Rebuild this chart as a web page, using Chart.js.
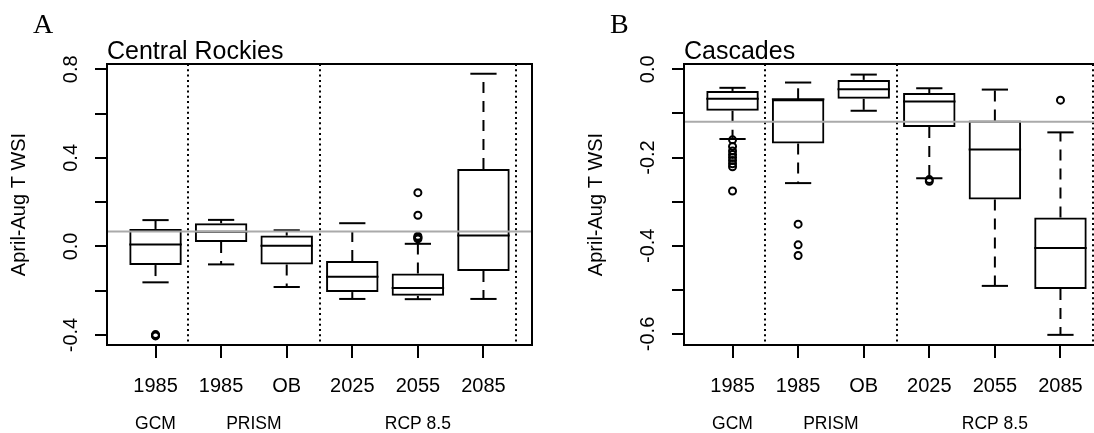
<!DOCTYPE html>
<html>
<head>
<meta charset="utf-8">
<script src="https://cdn.jsdelivr.net/npm/chart.js@4.4.1/dist/chart.umd.min.js"></script>
<style>
  html, body { margin: 0; padding: 0; background: #fff; }
  #wrap { position: relative; width: 1094px; height: 433px; overflow: hidden; }
  canvas { position: absolute; top: 0; }
</style>
</head>
<body>
<div id="wrap">
  <canvas id="panelA" width="577" height="433" style="left:0"></canvas>
  <canvas id="panelB" width="577" height="433" style="left:577px"></canvas>
</div>
<script>
// x categories, shared by both regions
var categories = ['1985', '1985', 'OB', '2025', '2055', '2085'];
var groupLabels = ['GCM', 'PRISM', 'RCP 8.5'];
var groupCenters = [0, 1.5, 4];
var separators = [0.5, 2.5, 5.5];

// Central Rockies: box stats per category
var rockiesLow = [-0.162, -0.081, -0.183, -0.237, -0.238, -0.237];
var rockiesQ1 = [-0.084, 0.020, -0.081, -0.206, -0.223, -0.111];
var rockiesMedian = [0.009, 0.067, 0.003, -0.137, -0.188, 0.049];
var rockiesQ3 = [0.079, 0.105, 0.049, -0.066, -0.122, 0.350];
var rockiesHigh = [0.119, 0.120, 0.073, 0.105, 0.012, 0.780];
var rockiesOutliers = [[-0.398, -0.401, -0.404], [], [], [], [0.243, 0.141, 0.046, 0.042, 0.038, 0.034], []];
var rockiesRef = 0.068;
var rockiesTicks = [-0.4, 0, 0.4, 0.8];

// Cascades: box stats per category
var cascadesLow = [-0.158, -0.258, -0.094, -0.247, -0.491, -0.602];
var cascadesQ1 = [-0.094, -0.168, -0.067, -0.131, -0.295, -0.498];
var cascadesMedian = [-0.067, -0.068, -0.045, -0.073, -0.182, -0.405];
var cascadesQ3 = [-0.049, -0.068, -0.024, -0.054, -0.116, -0.336];
var cascadesHigh = [-0.042, -0.030, -0.012, -0.043, -0.046, -0.143];
var cascadesOutliers = [[-0.160, -0.175, -0.185, -0.193, -0.200, -0.207, -0.214, -0.221, -0.276],
  [-0.351, -0.398, -0.422], [], [-0.250, -0.254], [], [-0.070]];
var cascadesRef = -0.119;
var cascadesTicks = [-0.6, -0.4, -0.2, 0];

var SANS = "'Liberation Sans', Arial, sans-serif";
Chart.defaults.font.family = SANS;
Chart.defaults.color = '#000';

var panels = {
  panelA: { letter: 'A', title: 'Central Rockies', low: rockiesLow, q1: rockiesQ1, med: rockiesMedian,
    q3: rockiesQ3, high: rockiesHigh, out: rockiesOutliers, ref: rockiesRef, ticks: rockiesTicks,
    min: -0.445, max: 0.824, step: 0.2 },
  panelB: { letter: 'B', title: 'Cascades', low: cascadesLow, q1: cascadesQ1, med: cascadesMedian,
    q3: cascadesQ3, high: cascadesHigh, out: cascadesOutliers, ref: cascadesRef, ticks: cascadesTicks,
    min: -0.625, max: 0.012, step: 0.1 }
};

function hline(ctx, x0, x1, y) { ctx.beginPath(); ctx.moveTo(x0, y); ctx.lineTo(x1, y); ctx.stroke(); }
function vline(ctx, x, y0, y1) { ctx.beginPath(); ctx.moveTo(x, y0); ctx.lineTo(x, y1); ctx.stroke(); }

// whiskers, medians, separators and labels around the floating-bar boxes
var boxplotExtras = {
  id: 'boxplotExtras',
  beforeDatasetsDraw: function (chart) {
    var p = panels[chart.canvas.id];
    var ctx = chart.ctx, x = chart.scales.x, y = chart.scales.y, a = chart.chartArea;
    ctx.save();
    ctx.strokeStyle = '#000';
    ctx.lineWidth = 2;
    ctx.setLineDash([2, 3.3]);
    separators.forEach(function (s) { vline(ctx, Math.round(x.getPixelForValue(s)), a.top, a.bottom); });
    categories.forEach(function (c, i) {
      var cx = x.getPixelForValue(i);
      var half = (x.getPixelForValue(i + 0.2) - cx);
      ctx.setLineDash([11, 8]);
      vline(ctx, cx, y.getPixelForValue(p.q3[i]), y.getPixelForValue(p.high[i]));
      vline(ctx, cx, y.getPixelForValue(p.q1[i]), y.getPixelForValue(p.low[i]));
      ctx.setLineDash([]);
      hline(ctx, cx - half, cx + half, y.getPixelForValue(p.high[i]));
      hline(ctx, cx - half, cx + half, y.getPixelForValue(p.low[i]));
    });
    ctx.restore();
  },
  afterDatasetsDraw: function (chart) {
    var p = panels[chart.canvas.id];
    var ctx = chart.ctx, x = chart.scales.x, y = chart.scales.y, a = chart.chartArea;
    ctx.save();
    ctx.strokeStyle = '#000';
    ctx.lineWidth = 2;
    categories.forEach(function (c, i) {
      var cx = x.getPixelForValue(i);
      var half = (x.getPixelForValue(i + 0.4) - cx);
      hline(ctx, cx - half, cx + half, y.getPixelForValue(p.med[i]));
    });
    ctx.strokeStyle = '#aaaaaa';
    hline(ctx, a.left, a.right, y.getPixelForValue(p.ref));
    ctx.restore();
  },
  afterDraw: function (chart) {
    var p = panels[chart.canvas.id];
    var ctx = chart.ctx, x = chart.scales.x, y = chart.scales.y, a = chart.chartArea;
    ctx.save();
    ctx.strokeStyle = '#000';
    ctx.lineWidth = 2;
    ctx.strokeRect(a.left, a.top, a.right - a.left, a.bottom - a.top);
    ctx.fillStyle = '#000';
    // panel letter and region title
    ctx.textAlign = 'left';
    ctx.textBaseline = 'alphabetic';
    ctx.font = "28px 'Liberation Serif', 'Times New Roman', serif";
    ctx.fillText(p.letter, 33, 33);
    ctx.font = '25px ' + SANS;
    ctx.fillText(p.title, a.left, 59);
    // rotated y tick labels
    ctx.font = '20px ' + SANS;
    ctx.textAlign = 'center';
    ctx.textBaseline = 'middle';
    p.ticks.forEach(function (v) {
      ctx.save();
      ctx.translate(71, y.getPixelForValue(v));
      ctx.rotate(-Math.PI / 2);
      ctx.fillText(v.toFixed(1), 0, 0);
      ctx.restore();
    });
    // source groups under the category labels
    ctx.font = '17.5px ' + SANS;
    groupLabels.forEach(function (g, k) {
      ctx.fillText(g, x.getPixelForValue(groupCenters[k]), 424);
    });
    ctx.restore();
  }
};

function makePanel(id) {
  var p = panels[id];
  var outliers = [];
  p.out.forEach(function (vals, i) {
    vals.forEach(function (v) { outliers.push({ x: i, y: v }); });
  });
  return new Chart(document.getElementById(id), {
    type: 'bar',
    data: {
      datasets: [{
        type: 'bar',
        data: categories.map(function (c, i) { return { x: i, y: [p.q1[i], p.q3[i]] }; }),
        backgroundColor: 'rgba(255,255,255,0)',
        borderColor: '#000',
        borderWidth: 2,
        borderSkipped: false,
        categoryPercentage: 1,
        barPercentage: 0.8
      }, {
        type: 'scatter',
        data: outliers,
        pointStyle: 'circle',
        pointRadius: 3.5,
        pointBorderWidth: 2,
        pointBackgroundColor: 'rgba(255,255,255,0)',
        pointBorderColor: '#000'
      }]
    },
    options: {
      responsive: false,
      animation: false,
      events: [],
      layout: { padding: { left: 0, top: 64, right: 45, bottom: 0 } },
      plugins: { legend: { display: false }, tooltip: { enabled: false } },
      scales: {
        x: {
          type: 'linear',
          min: -0.74,
          max: 5.74,
          offset: false,
          border: { display: false },
          grid: { offset: false, drawOnChartArea: false, drawTicks: true, tickLength: 13, color: '#000', lineWidth: 2 },
          ticks: {
            stepSize: 1,
            includeBounds: false,
            autoSkip: false,
            maxRotation: 0,
            padding: 16,
            font: { size: 20 },
            callback: function (v) { return categories[v]; }
          },
          afterFit: function (s) { s.height = 88; }
        },
        y: {
          min: p.min,
          max: p.max,
          border: { display: false },
          grid: { drawOnChartArea: false, drawTicks: true, tickLength: 12, color: '#000', lineWidth: 2 },
          ticks: { stepSize: p.step, includeBounds: false, display: false },
          title: { display: true, text: 'April-Aug T WSI', font: { size: 20 }, padding: { top: 7, bottom: 0 } },
          afterFit: function (s) { s.width = 107; }
        }
      }
    },
    plugins: [boxplotExtras]
  });
}

makePanel('panelA');
makePanel('panelB');
</script>
</body>
</html>
